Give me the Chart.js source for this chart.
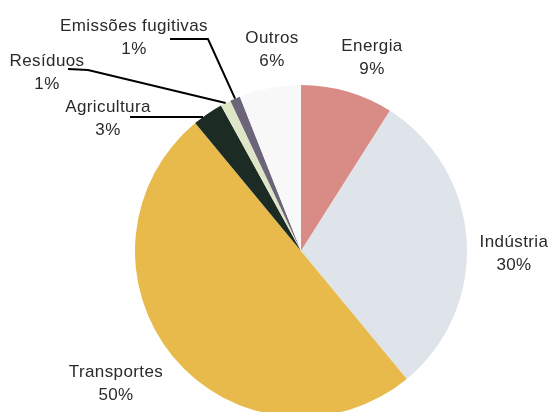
<!DOCTYPE html>
<html>
<head>
<meta charset="utf-8">
<script src="https://cdn.jsdelivr.net/npm/chart.js@4/dist/chart.umd.min.js"></script>
<style>
    html, body { margin: 0; padding: 0; background: #fff; overflow: hidden; }
    #wrap { position: relative; width: 550px; height: 430px; }
</style>
</head>
<body>
<div id="wrap"><canvas id="emissions-chart"></canvas></div>
<script>
const categories = ['Energia', 'Indústria', 'Transportes', 'Agricultura', 'Resíduos', 'Emissões fugitivas', 'Outros'];
const shares = [9, 30, 50, 3, 1, 1, 6];
const sliceColors = ['#d98c86', '#dfe4ea', '#e7ba4b', '#1c2c24', '#dfe6c8', '#6c6579', '#f8f8f8'];

// label placement: text centre and optional leader elbow
const labelSpots = [
    { x: 372, y: 46 },
    { x: 514, y: 242 },
    { x: 116, y: 372 },
    { x: 108, y: 107, line: [[130, 117]], flat: true },
    { x: 47, y: 61, line: [[68, 69], [88, 70]] },
    { x: 134, y: 26, line: [[170, 39], [208, 39]] },
    { x: 272, y: 38 }
];

const labelPlugin = {
    id: 'sliceLabels',
    afterDatasetsDraw(chart) {
        const ctx = chart.ctx;
        const arcs = chart.getDatasetMeta(0).data;
        ctx.save();
        ctx.fillStyle = '#2a2a2a';
        ctx.strokeStyle = '#000';
        ctx.lineWidth = 2;
        ctx.font = '17px "Liberation Sans"';
        ctx.letterSpacing = '0.4px';
        ctx.textAlign = 'center';
        ctx.textBaseline = 'middle';
        arcs.forEach((arc, i) => {
            const spot = labelSpots[i];
            ctx.fillText(categories[i], spot.x, spot.y);
            ctx.fillText(shares[i] + '%', spot.x, spot.y + 23);
            if (spot.line) {
                const p = arc.getProps(['x', 'y', 'startAngle', 'endAngle', 'outerRadius'], true);
                const mid = (p.startAngle + p.endAngle) / 2;
                let ex = p.x + Math.cos(mid) * p.outerRadius;
                let ey = p.y + Math.sin(mid) * p.outerRadius;
                if (spot.flat) {
                    ey = spot.line[0][1];
                    ex = p.x - Math.sqrt(p.outerRadius * p.outerRadius - (ey - p.y) * (ey - p.y));
                }
                ctx.beginPath();
                ctx.moveTo(spot.line[0][0], spot.line[0][1]);
                spot.line.slice(1).forEach(pt => ctx.lineTo(pt[0], pt[1]));
                ctx.lineTo(ex, ey);
                ctx.stroke();
            }
        });
        ctx.restore();
    }
};

new Chart(document.getElementById('emissions-chart').getContext('2d'), {
    type: 'pie',
    data: {
        labels: categories,
        datasets: [{
            data: shares,
            backgroundColor: sliceColors,
            borderWidth: 0
        }]
    },
    options: {
        responsive: true,
        maintainAspectRatio: false,
        animation: false,
        layout: {
            padding: { top: 85, bottom: 13, left: 135, right: 83 }
        },
        plugins: {
            legend: { display: false },
            tooltip: { enabled: false }
        }
    },
    plugins: [labelPlugin]
});
</script>
</body>
</html>
